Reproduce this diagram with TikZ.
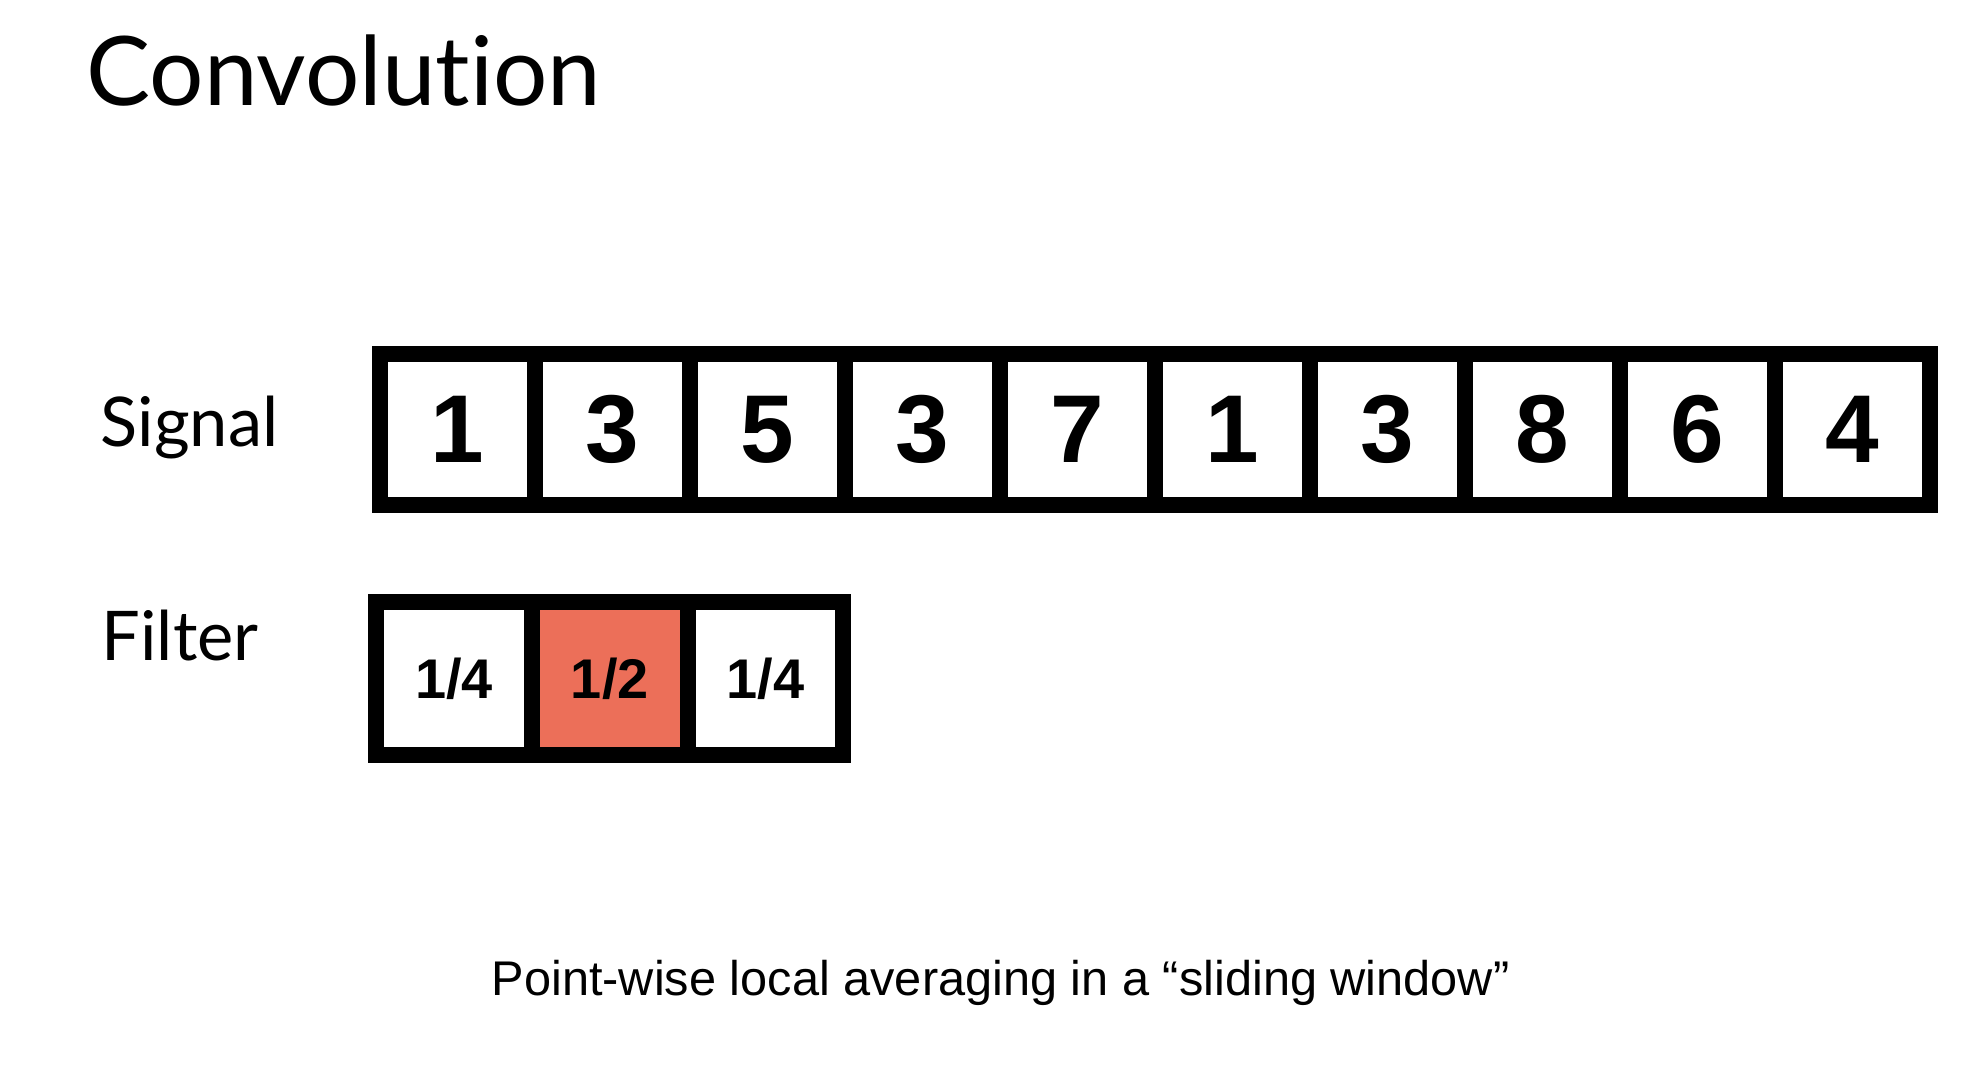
\documentclass[tikz,border=0pt]{standalone}
\usepackage{fontspec}
\setmainfont{Liberation Sans}
\newfontfamily\labelfont[Ligatures=NoCommon]{Lato}
\usetikzlibrary{positioning}
\definecolor{FilterRed}{HTML}{EC6F59}
\tikzset{
  SignalCell/.style={draw, line width=4.55pt, outer sep=0pt, inner sep=0pt,
    minimum width=1.55cm, minimum height=1.51cm,
    font=\bfseries\fontsize{27.4}{30}\selectfont},
  FilterCell/.style={draw, line width=4.55pt, outer sep=0pt, inner sep=0pt,
    minimum width=1.557cm, minimum height=1.53cm,
    font=\bfseries\fontsize{15.9}{18}\selectfont},
  RowLabel/.style={anchor=base west, inner sep=0pt,
    font=\labelfont\fontsize{19.5}{22}\selectfont}
}

\begin{document}
\begin{tikzpicture}[x=0.01cm, y=-0.01cm]
    \path[use as bounding box] (0,0) rectangle (1976,1074);
    \def\Sx{457.5}
    \def\Sy{429.5}
    \def\Fx{454}
    \def\Fy{678.5}

    \node[anchor=base west, inner sep=0pt, font=\labelfont\fontsize{27.3}{32}\selectfont] (title) at (86,106) {Convolution};

    \node[RowLabel] (signal) at (100,447) {Signal};
    \node[RowLabel] (filter) at (101,661) {Filter};

    \foreach \v [count=\i] in {1,3,5,3,7,1,3,8,6,4}
        \node[SignalCell] (s\i) at ({\Sx+(\i-1)*155}, \Sy) {\v};

    \node[FilterCell] (f1) at (\Fx,\Fy) {1/4};
    \node[FilterCell, fill=FilterRed, right=0pt of f1] (f2) {1/2};
    \node[FilterCell, right=0pt of f2] (f3) {1/4};

    \node[anchor=base west, inner sep=0pt, font=\fontsize{13.85}{16}\selectfont] (caption) at (491,996) {Point-wise local averaging in a “sliding window”};
\end{tikzpicture}
\end{document}
